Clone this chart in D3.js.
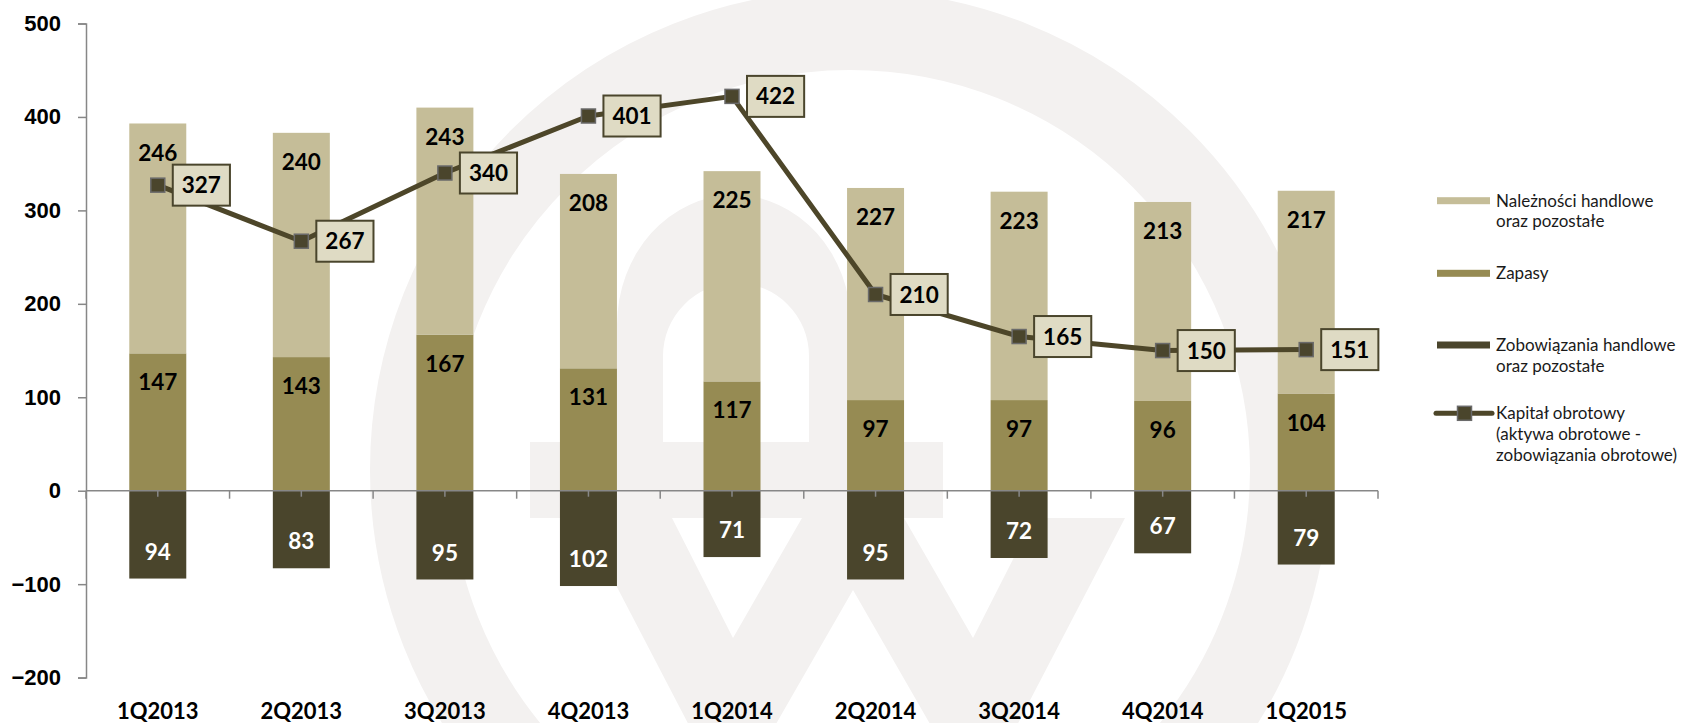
<!DOCTYPE html>
<html>
<head>
<meta charset="utf-8">
<script src="https://cdn.jsdelivr.net/npm/d3@7"></script>
<style>
  html, body { margin: 0; padding: 0; background: #fff; }
  svg { display: block; font-family: Lato, "Open Sans", sans-serif; }
  .tick-lbl { font-size: 22px; font-weight: 700; fill: #000; }
  .cat-lbl { font-size: 22px; font-weight: 700; fill: #000; }
  .val-lbl { font-size: 22.5px; font-weight: 700; }
  .leg-lbl { font-size: 17px; fill: #1a1a1a; }
</style>
</head>
<body>
<div id="chart"></div>
<script>
// data
var categories = ["1Q2013","2Q2013","3Q2013","4Q2013","1Q2014","2Q2014","3Q2014","4Q2014","1Q2015"];
var naleznosci = [246,240,243,208,225,227,223,213,217];
var zapasy = [147,143,167,131,117,97,97,96,104];
var zobowiazania = [94,83,95,102,71,95,72,67,79];
var kapital = [327,267,340,401,422,210,165,150,151];
var yTicks = [-200,-100,0,100,200,300,400,500];

var legendItems = [
  {lines:["Należności handlowe","oraz pozostałe"], color:"#c5bd98", type:"bar"},
  {lines:["Zapasy"], color:"#968b53", type:"bar"},
  {lines:["Zobowiązania handlowe","oraz pozostałe"], color:"#4a452c", type:"bar"},
  {lines:["Kapitał obrotowy","(aktywa obrotowe -","zobowiązania obrotowe)"], color:"#4d4629", type:"line"}
];

var W = 1686, H = 723;
var colLight = "#c5bd98", colMid = "#968b53", colDark = "#4a452c", colLine = "#4d4629";
var axisCol = "#878787", wm = "#f3f1f0";

var svg = d3.select("#chart").append("svg").attr("width", W).attr("height", H);

// watermark logo in background
var bg = svg.append("g").attr("class","watermark");
bg.append("circle").attr("cx",850).attr("cy",470).attr("r",440)
  .attr("fill","none").attr("stroke",wm).attr("stroke-width",80);
bg.append("path")
  .attr("d","M617,442 L617,325 A117,130 0 0 1 851,325 L851,442 Z M663,442 L663,356 A73,73 0 0 1 809,356 L809,442 Z")
  .attr("fill",wm).attr("fill-rule","evenodd");
bg.append("rect").attr("x",530).attr("y",442).attr("width",413).attr("height",76).attr("fill",wm);
bg.append("path")
  .attr("d","M581,518 L730,804 L853,590 L976,804 L1125,518 L1034,518 L973,638 L904,518 L802,518 L733,638 L672,518 Z")
  .attr("fill",wm);

// scales
var x = d3.scaleBand().domain(categories).range([86,1378]).paddingInner(0).paddingOuter(0);
var y = d3.scaleLinear().domain([-200,500]).range([677.6,23.5]);
var bw = x.bandwidth()*0.397;
var cx = function(c){ return x(c)+x.bandwidth()/2; };

var rows = categories.map(function(c,i){
  return {cat:c, nal:naleznosci[i], zap:zapasy[i], zob:zobowiazania[i], kap:kapital[i]};
});

// bars
var bars = svg.append("g");
bars.selectAll(".zap").data(rows).enter().append("rect")
  .attr("x",function(d){return cx(d.cat)-bw/2;})
  .attr("y",function(d){return y(d.zap);})
  .attr("width",bw)
  .attr("height",function(d){return y(0)-y(d.zap);})
  .attr("fill",colMid);
bars.selectAll(".nal").data(rows).enter().append("rect")
  .attr("x",function(d){return cx(d.cat)-bw/2;})
  .attr("y",function(d){return y(d.zap+d.nal);})
  .attr("width",bw)
  .attr("height",function(d){return y(d.zap)-y(d.zap+d.nal);})
  .attr("fill",colLight);
bars.selectAll(".zob").data(rows).enter().append("rect")
  .attr("x",function(d){return cx(d.cat)-bw/2;})
  .attr("y",y(0))
  .attr("width",bw)
  .attr("height",function(d){return y(-d.zob)-y(0);})
  .attr("fill",colDark);

// axes
var yAxis = d3.axisLeft(y).tickValues(yTicks).tickSize(8).tickPadding(17).tickFormat(d3.format("d"));
var gy = svg.append("g").attr("transform","translate(86,0)").call(yAxis);
gy.select(".domain").attr("stroke",axisCol).attr("stroke-width",1.5);
gy.selectAll(".tick line").attr("stroke",axisCol).attr("stroke-width",1.5);
gy.selectAll(".tick text").attr("class","tick-lbl").attr("font-family",null).attr("font-size",null).attr("fill",null);

var gx = svg.append("g");
gx.append("line").attr("x1",86).attr("x2",1378).attr("y1",y(0)).attr("y2",y(0))
  .attr("stroke",axisCol).attr("stroke-width",1.5);
var bounds = categories.map(function(c){return x(c);}).concat([x.range()[1]]);
gx.selectAll(".bt").data(bounds).enter().append("line")
  .attr("x1",function(d){return d;}).attr("x2",function(d){return d;})
  .attr("y1",y(0)).attr("y2",y(0)+8)
  .attr("stroke",axisCol).attr("stroke-width",1.5);
gx.selectAll(".ct").data(categories).enter().append("line")
  .attr("x1",cx).attr("x2",cx)
  .attr("y1",y(0)).attr("y2",y(0)+6)
  .attr("stroke",axisCol).attr("stroke-width",1.5);
gx.selectAll(".cat-lbl").data(categories).enter().append("text")
  .attr("class","cat-lbl")
  .attr("x",cx).attr("y",719)
  .attr("text-anchor","middle")
  .text(function(d){return d;});

// bar value labels
var lbl = svg.append("g");
lbl.selectAll(".ln").data(rows).enter().append("text")
  .attr("class","val-lbl").attr("fill","#000").attr("text-anchor","middle")
  .attr("x",function(d){return cx(d.cat);})
  .attr("y",function(d){return y(d.zap+d.nal)+29;})
  .attr("dy","0.36em")
  .text(function(d){return d.nal;});
lbl.selectAll(".lz").data(rows).enter().append("text")
  .attr("class","val-lbl").attr("fill","#000").attr("text-anchor","middle")
  .attr("x",function(d){return cx(d.cat);})
  .attr("y",function(d){return y(d.zap)+29;})
  .attr("dy","0.36em")
  .text(function(d){return d.zap;});
lbl.selectAll(".lo").data(rows).enter().append("text")
  .attr("class","val-lbl").attr("fill","#fff").attr("text-anchor","middle")
  .attr("x",function(d){return cx(d.cat);})
  .attr("y",function(d){return y(-d.zob)-27;})
  .attr("dy","0.36em")
  .text(function(d){return d.zob;});

// working capital line
var line = d3.line().x(function(d){return cx(d.cat);}).y(function(d){return y(d.kap);});
svg.append("path").datum(rows).attr("d",line)
  .attr("fill","none").attr("stroke",colLine).attr("stroke-width",5).attr("stroke-linejoin","round");
svg.selectAll(".mk").data(rows).enter().append("rect")
  .attr("x",function(d){return cx(d.cat)-7;})
  .attr("y",function(d){return y(d.kap)-7;})
  .attr("width",14).attr("height",14)
  .attr("fill",colDark).attr("stroke","#6a6a6a").attr("stroke-width",1.5);

// boxed labels for line
var boxes = svg.selectAll(".box").data(rows).enter().append("g");
boxes.each(function(d){
  var g = d3.select(this);
  var r = g.append("rect");
  var t = g.append("text").attr("class","val-lbl").attr("fill","#000").attr("text-anchor","middle")
    .attr("dy","0.36em").text(d.kap);
  var tw = t.node().getComputedTextLength();
  var bwid = tw + 18, bh = 41;
  var left = cx(d.cat) + 15;
  r.attr("x",left).attr("y",y(d.kap)-bh/2).attr("width",bwid).attr("height",bh)
   .attr("fill","#dfdbc4").attr("stroke",colDark).attr("stroke-width",2);
  t.attr("x",left+bwid/2).attr("y",y(d.kap));
});

// legend
var legY = [200.7, 273.3, 345, 413.3];
var leg = svg.append("g");
legendItems.forEach(function(it,i){
  var yy = legY[i];
  if(it.type==="bar"){
    leg.append("rect").attr("x",1437).attr("y",yy-3.5).attr("width",53).attr("height",7).attr("fill",it.color);
  } else {
    leg.append("line").attr("x1",1436).attr("x2",1492).attr("y1",yy).attr("y2",yy)
      .attr("stroke",it.color).attr("stroke-width",5).attr("stroke-linecap","round");
    leg.append("rect").attr("x",1457.5).attr("y",yy-7).attr("width",14).attr("height",14)
      .attr("fill",colDark).attr("stroke","#6a6a6a").attr("stroke-width",1.5);
  }
  it.lines.forEach(function(s,j){
    leg.append("text").attr("class","leg-lbl").attr("x",1496).attr("y",yy+j*20.7).attr("dy","0.35em").text(s);
  });
});
</script>
</body>
</html>
